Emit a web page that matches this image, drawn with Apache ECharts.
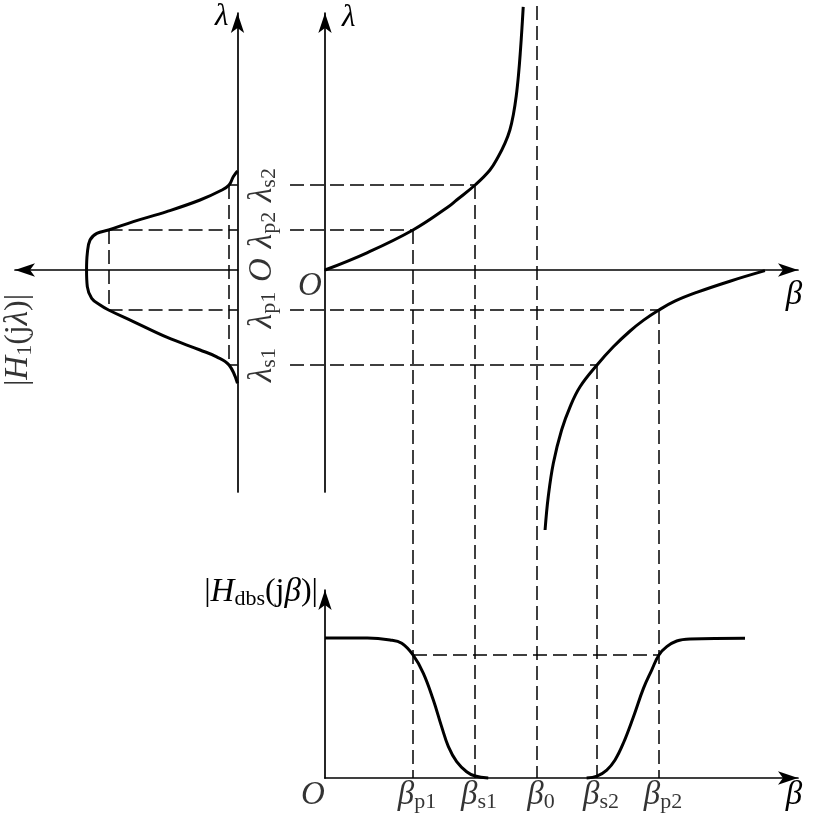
<!DOCTYPE html>
<html><head><meta charset="utf-8">
<script src="https://cdn.jsdelivr.net/npm/echarts@6/dist/echarts.min.js"></script>
<style>html,body{margin:0;padding:0;background:#fff}#c{width:813px;height:820px}</style>
</head><body><div id="c"></div>
<script>
// ---------------- data ----------------
// characteristic frequencies (normalised units)
const lambdaTicks = [-2.375, -1.0, 0, 1.0, 2.125];            // λs1, λp1, O, λp2, λs2
const lambdaTickText = [['λ','s1'],['λ','p1'],['O',''],['λ','p2'],['λ','s2']];
const betaTicks = [0, 0.415, 0.708, 1.0, 1.283, 1.575];        // O, βp1, βs1, β0, βs2, βp2
const betaTickText = [['O',''],['β','p1'],['β','s1'],['β','0'],['β','s2'],['β','p2']];
const h1Levels = [0.854, 0.056];      // |H1| at passband edge, at stopband edge
const hdbsPassLevel = [0.879];        // |Hdbs| at passband edges

// prototype low-pass |H1(jλ)| : [|H1|, λ]
const h1Curve = [[0,2.475],[0.028,2.33],[0.056,2.125],[0.103,2.0],[0.248,1.75],[0.469,1.46],[0.69,1.21],
  [0.854,1.0],[0.932,0.917],[0.977,0.75],[0.995,0.417],[1.0,0],[0.995,-0.417],[0.966,-0.708],[0.91,-0.875],
  [0.854,-1.0],[0.69,-1.29],[0.469,-1.68],[0.248,-2.0],[0.138,-2.17],[0.056,-2.375],[0,-2.83]];
// frequency mapping λ(β) : [β, λ]
const mapLow = [[0,0],[0.198,0.43],[0.415,1.0],[0.58,1.575],[0.621,1.75],[0.708,2.125],[0.778,2.5],
  [0.817,2.83],[0.849,3.17],[0.872,3.5],[0.889,3.9],[0.902,4.35],[0.913,4.9],[0.922,5.5],[0.929,6.05],[0.935,6.58]];
const mapHigh = [[1.038,-6.5],[1.053,-5.67],[1.077,-4.83],[1.116,-4.0],[1.156,-3.42],[1.203,-2.92],
  [1.283,-2.375],[1.36,-1.92],[1.439,-1.525],[1.503,-1.254],[1.575,-1.0],[1.65,-0.78],[1.753,-0.56],
  [1.91,-0.28],[2.075,-0.017]];
// band-stop |Hdbs(jβ)| : [β, |Hdbs|]
const hdbsLeft = [[0,1.0],[0.2,1.0],[0.307,0.986],[0.362,0.962],[0.415,0.879],[0.464,0.748],[0.511,0.557],
  [0.55,0.367],[0.582,0.224],[0.621,0.117],[0.668,0.045],[0.708,0.014],[0.77,0]];
const hdbsRight = [[1.234,0],[1.283,0.014],[1.329,0.057],[1.368,0.129],[1.407,0.248],[1.455,0.438],
  [1.502,0.64],[1.541,0.771],[1.575,0.879],[1.612,0.938],[1.659,0.979],[1.722,0.993],[1.981,0.998]];

// ---------------- layout / style ----------------
const FONT = '"Liberation Serif","Times New Roman",serif';
const LAM_MIN = -5.55, LAM_MAX = 6.425, BETA_MAX = 2.231, H1_MAX = 1.474, HD_MAX = 1.343;
const GL = {left:15, top:13, width:222.5, height:479};
const GM = {left:325, top:13, width:473, height:479};
const GB = {left:325, top:590, width:473, height:188};
const pxPerLam = GM.height / (LAM_MAX - LAM_MIN);
const LAM_FOOT = LAM_MIN - ((GB.top + GB.height) - (GM.top + GM.height)) / pxPerLam; // down to bottom β-axis
const LAM_TOPDASH = 6.6;
const DASH_START_BETA = -0.165;   // dashed guides resume right of the label column
const LABEL_H = -0.165;           // label column position (right of left λ axis)

const RICH = {
  i:{fontFamily:FONT,fontStyle:'italic',fontSize:33,lineHeight:36,verticalAlign:'middle',color:'#000'},
  r:{fontFamily:FONT,fontSize:32,lineHeight:36,verticalAlign:'middle',color:'#000'},
  s:{fontFamily:FONT,fontSize:22,lineHeight:18,verticalAlign:'bottom',color:'#000'}
};
const rt = (m, s) => s ? `{i|${m}}{s|${s}}` : `{i|${m}}`;

function axisLine(sym){
  return {show:true, onZero:true, symbol:sym || ['none','arrow'], symbolSize:[10,20],
          lineStyle:{color:'#000', width:1.7}};
}
const hidden = {axisTick:{show:false}, axisLabel:{show:false}, splitLine:{show:false}};
const DASH = {color:'#000', width:1.5, type:[14,6], opacity:1};
const CURVE = {color:'#000', width:3};

function seg(a, b){ return {coords:[a, b]}; }
const [lS1, lP1, , lP2, lS2] = lambdaTicks;
const [, bP1, bS1, b0, bS2, bP2] = betaTicks;
const [hP, hS] = h1Levels;

const option = {
  animation:false,
  backgroundColor:'#fff',
  grid:[
    Object.assign({outerBoundsMode:'none', containLabel:false}, GL),
    Object.assign({outerBoundsMode:'none', containLabel:false}, GM),
    Object.assign({outerBoundsMode:'none', containLabel:false}, GB)
  ],
  xAxis:[
    Object.assign({type:'value', gridIndex:0, min:0, max:H1_MAX, inverse:true, axisLine:axisLine(['arrow','none'])}, hidden),
    Object.assign({type:'value', gridIndex:1, min:0, max:BETA_MAX, axisLine:axisLine(),
      name:'β', nameLocation:'end', nameGap:-4,
      nameTextStyle:{fontFamily:FONT, fontStyle:'italic', fontSize:33, color:'#000', align:'center', verticalAlign:'top', padding:[9,0,0,0]}}, hidden),
    Object.assign({type:'value', gridIndex:2, min:0, max:BETA_MAX, axisLine:axisLine(),
      name:'β', nameLocation:'end', nameGap:-4,
      nameTextStyle:{fontFamily:FONT, fontStyle:'italic', fontSize:33, color:'#000', align:'center', verticalAlign:'top', padding:[1,0,0,0]}}, hidden)
  ],
  yAxis:[
    Object.assign({type:'value', gridIndex:0, min:LAM_MIN, max:LAM_MAX, position:'right', axisLine:axisLine(),
      name:'λ', nameLocation:'end', nameGap:-4,
      nameTextStyle:{fontFamily:FONT, fontStyle:'italic', fontSize:31, color:'#000', align:'right', verticalAlign:'middle', padding:[0,9,0,0]}}, hidden),
    Object.assign({type:'value', gridIndex:1, min:LAM_MIN, max:LAM_MAX, axisLine:axisLine(),
      name:'λ', nameLocation:'end', nameGap:-5,
      nameTextStyle:{fontFamily:FONT, fontStyle:'italic', fontSize:31, color:'#000', align:'left', verticalAlign:'middle', padding:[0,0,0,17]}}, hidden),
    Object.assign({type:'value', gridIndex:2, min:0, max:HD_MAX, axisLine:axisLine(),
      name:'{r||}{i|H}{s|dbs}{r|(j}{i|β}{r|)|}', nameLocation:'end', nameGap:-2,
      nameTextStyle:{align:'right', verticalAlign:'middle', padding:[0,7,0,0], rich:RICH}}, hidden)
  ],
  series:[
    // dashed construction lines
    {type:'lines', coordinateSystem:'cartesian2d', xAxisIndex:0, yAxisIndex:0, clip:false, silent:true,
     lineStyle:DASH, data:[
       seg([hP,lP2],[hP,lP1]), seg([hS,lS2],[hS,lS1]),
       seg([hP,lP2],[0,lP2]), seg([hP,lP1],[0,lP1]), seg([hS,lS2],[0,lS2]), seg([hS,lS1],[0,lS1])]},
    {type:'lines', coordinateSystem:'cartesian2d', xAxisIndex:1, yAxisIndex:1, clip:false, silent:true,
     lineStyle:DASH, data:[
       seg([DASH_START_BETA,lP2],[bP1,lP2]), seg([DASH_START_BETA,lS2],[bS1,lS2]),
       seg([DASH_START_BETA,lP1],[bP2,lP1]), seg([DASH_START_BETA,lS1],[bS2,lS1]),
       seg([bP1,lP2],[bP1,LAM_FOOT]), seg([bS1,lS2],[bS1,LAM_FOOT]),
       seg([bS2,lS1],[bS2,LAM_FOOT]), seg([bP2,lP1],[bP2,LAM_FOOT]),
       seg([b0,LAM_TOPDASH],[b0,LAM_FOOT])]},
    {type:'lines', coordinateSystem:'cartesian2d', xAxisIndex:2, yAxisIndex:2, clip:false, silent:true,
     lineStyle:DASH, data:[ seg([bP1,hdbsPassLevel[0]],[bP2,hdbsPassLevel[0]]) ]},
    // curves
    {type:'line', xAxisIndex:0, yAxisIndex:0, data:h1Curve, showSymbol:false, symbol:'none', smooth:0.4, clip:false, lineStyle:CURVE},
    {type:'line', xAxisIndex:1, yAxisIndex:1, data:mapLow, showSymbol:false, symbol:'none', smooth:0.4, clip:false, lineStyle:CURVE},
    {type:'line', xAxisIndex:1, yAxisIndex:1, data:mapHigh, showSymbol:false, symbol:'none', smooth:0.4, clip:false, lineStyle:CURVE},
    {type:'line', xAxisIndex:2, yAxisIndex:2, data:hdbsLeft, showSymbol:false, symbol:'none', smooth:0.4, clip:false, lineStyle:CURVE},
    {type:'line', xAxisIndex:2, yAxisIndex:2, data:hdbsRight, showSymbol:false, symbol:'none', smooth:0.4, clip:false, lineStyle:CURVE},
    // rotated λ tick labels (column right of the left λ axis)
    {type:'scatter', xAxisIndex:0, yAxisIndex:0, clip:false, silent:true, symbolSize:0,
     data:lambdaTicks.map(v => [LABEL_H, v]),
     label:{show:true, position:'inside', rotate:90, rich:RICH,
            formatter:p => rt(lambdaTickText[p.dataIndex][0], lambdaTickText[p.dataIndex][1])}},
    // rotated |H1(jλ)| title
    {type:'scatter', xAxisIndex:0, yAxisIndex:0, clip:false, silent:true, symbolSize:0,
     data:[[1.454,-1.75]],
     label:{show:true, position:'inside', rotate:90, rich:RICH,
            formatter:'{r||}{i|H}{s|1}{r|(j}{i|λ}{r|)|}'}},
    // origin of the mapping plot
    {type:'scatter', xAxisIndex:1, yAxisIndex:1, clip:false, silent:true, symbolSize:0,
     data:[[0,0]],
     label:{show:true, position:'inside', offset:[-15,16], rich:RICH, formatter:'{i|O}'}},
    // β tick labels of the band-stop plot
    {type:'scatter', xAxisIndex:2, yAxisIndex:2, clip:false, silent:true, symbolSize:0,
     data:betaTicks.map((b,i) => ({value:[b,0], label:{offset:[i===0?-12:4,0]}})),
     label:{show:true, position:'bottom', distance:-1, rich:RICH,
            formatter:p => rt(betaTickText[p.dataIndex][0], betaTickText[p.dataIndex][1])}}
  ]
};
const chart = echarts.init(document.getElementById('c'), null, {renderer:'canvas'});
chart.setOption(option);
</script></body></html>
